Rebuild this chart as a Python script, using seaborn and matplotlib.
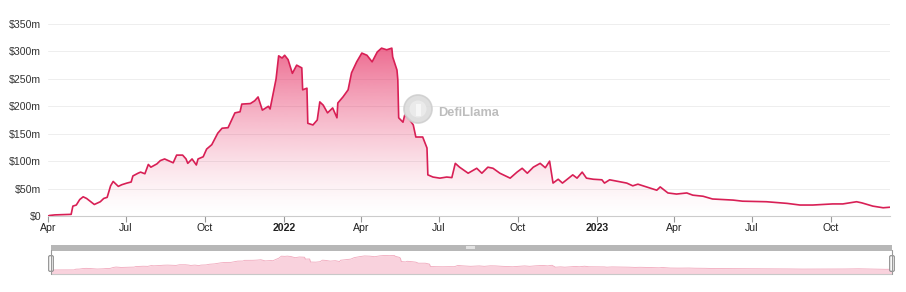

# DefiLlama style TVL chart

import pandas as pd
import numpy as np
import matplotlib
matplotlib.use("Agg")
import matplotlib.pyplot as plt
import matplotlib.dates as mdates
import seaborn as sns
from matplotlib.patches import Polygon, Circle, FancyBboxPatch, Rectangle
from matplotlib.ticker import FixedLocator

# Data (TVL in $m)

dates = [
    "2021-04-01", "2021-04-03", "2021-04-09", "2021-04-28", "2021-04-30", "2021-05-04",
    "2021-05-08", "2021-05-12", "2021-05-16", "2021-05-25", "2021-06-01", "2021-06-05",
    "2021-06-09", "2021-06-13", "2021-06-16", "2021-06-22", "2021-06-26", "2021-07-02",
    "2021-07-07", "2021-07-09", "2021-07-15", "2021-07-18", "2021-07-23", "2021-07-27",
    "2021-07-30", "2021-08-06", "2021-08-10", "2021-08-15", "2021-08-25", "2021-08-29",
    "2021-09-05", "2021-09-09", "2021-09-11", "2021-09-16", "2021-09-21", "2021-09-23",
    "2021-09-29", "2021-10-03", "2021-10-09", "2021-10-16", "2021-10-21", "2021-10-28",
    "2021-11-05", "2021-11-11", "2021-11-13", "2021-11-23", "2021-11-28", "2021-12-02",
    "2021-12-07", "2021-12-14", "2021-12-16", "2021-12-21", "2021-12-23", "2021-12-26",
    "2021-12-30", "2022-01-02", "2022-01-06", "2022-01-11", "2022-01-16", "2022-01-22",
    "2022-01-23", "2022-01-28", "2022-01-29", "2022-02-04", "2022-02-09", "2022-02-12",
    "2022-02-16", "2022-02-21", "2022-02-27", "2022-03-04", "2022-03-05", "2022-03-11",
    "2022-03-17", "2022-03-21", "2022-03-27", "2022-04-02", "2022-04-08", "2022-04-14",
    "2022-04-20", "2022-04-25", "2022-05-01", "2022-05-07", "2022-05-08", "2022-05-13",
    "2022-05-14", "2022-05-15", "2022-05-20", "2022-05-22", "2022-05-28", "2022-06-01",
    "2022-06-04", "2022-06-12", "2022-06-17", "2022-06-18", "2022-06-24", "2022-07-02",
    "2022-07-10", "2022-07-16", "2022-07-20", "2022-07-25", "2022-08-04", "2022-08-14",
    "2022-08-20", "2022-08-27", "2022-09-02", "2022-09-10", "2022-09-22", "2022-09-30",
    "2022-10-06", "2022-10-12", "2022-10-19", "2022-10-27", "2022-11-02", "2022-11-07",
    "2022-11-11", "2022-11-17", "2022-11-22", "2022-12-04", "2022-12-09", "2022-12-15",
    "2022-12-20", "2022-12-28", "2023-01-07", "2023-01-10", "2023-01-16", "2023-02-05",
    "2023-02-12", "2023-02-18", "2023-02-28", "2023-03-12", "2023-03-16", "2023-03-25",
    "2023-04-04", "2023-04-16", "2023-04-23", "2023-05-05", "2023-05-16", "2023-06-09",
    "2023-06-20", "2023-07-18", "2023-08-11", "2023-08-26", "2023-09-10", "2023-10-03",
    "2023-10-15", "2023-10-31", "2023-11-06", "2023-11-19", "2023-12-01", "2023-12-09",
]

tvl = [
    0, 1, 2, 3, 18, 20,
    30, 35, 32, 21, 26, 32,
    34, 55, 63, 54, 57, 60,
    62, 73, 78, 80, 77, 94,
    89, 95, 101, 104, 97, 111,
    111, 104, 96, 104, 93, 104,
    108, 122, 130, 151, 160, 161,
    188, 190, 204, 205, 210, 217,
    193, 200, 195, 235, 250, 292,
    288, 293, 285, 260, 275, 270,
    230, 233, 169, 166, 175, 208,
    202, 188, 197, 179, 206, 217,
    230, 261, 281, 297, 293, 281,
    299, 306, 303, 306, 290, 266,
    248, 179, 171, 184, 175, 166,
    144, 144, 124, 75, 71, 69,
    71, 70, 96, 89, 78, 87,
    78, 89, 87, 78, 69, 80,
    87, 78, 89, 96, 88, 100,
    60, 67, 60, 75, 69, 80,
    69, 67, 66, 60, 66, 60,
    55, 58, 53, 47, 53, 42,
    40, 42, 38, 36, 31, 29,
    27, 26, 23, 20, 20, 22,
    22, 26, 24, 18, 15, 16,
]

tick_dates = ["2021-04-01", "2021-07-01", "2021-10-01", "2022-01-01", "2022-04-01", "2022-07-01",
              "2022-10-01", "2023-01-01", "2023-04-01", "2023-07-01", "2023-10-01"]
tick_labels = ["Apr", "Jul", "Oct", "2022", "Apr", "Jul", "Oct", "2023", "Apr", "Jul", "Oct"]

y_ticks = [0, 50, 100, 150, 200, 250, 300, 350]
y_labels = ["$0", "$50m", "$100m", "$150m", "$200m", "$250m", "$300m", "$350m"]

df = pd.DataFrame({"date": pd.to_datetime(dates), "tvl": tvl})

line_color = "#d81f55"
fill_color = "#e62e62"

sns.set_style("white")
plt.rcParams["font.family"] = ["Liberation Sans", "DejaVu Sans"]

fig = plt.figure(figsize=(9.06, 2.92), dpi=100)

# Main chart

ax = fig.add_axes([48 / 906, 76 / 292, 842 / 906, 192 / 292])

sns.lineplot(data=df, x="date", y="tvl", color=line_color, linewidth=1.2, ax=ax, zorder=3)

xs = mdates.date2num(df["date"])
ys = df["tvl"].to_numpy()

# gradient fill under the line
ymax = ys.max()
n = 256
grad = np.zeros((n, 1, 4))
rgb = matplotlib.colors.to_rgb(fill_color)
grad[:, 0, 0] = rgb[0]
grad[:, 0, 1] = rgb[1]
grad[:, 0, 2] = rgb[2]
grad[:, 0, 3] = 0.7 * np.linspace(0, 1, n) ** 1.35

img = ax.imshow(grad, extent=[xs.min(), xs.max(), 0, ymax], origin="lower",
                aspect="auto", zorder=2, interpolation="bilinear")
clip = Polygon(np.column_stack([np.r_[xs[0], xs, xs[-1]], np.r_[0, ys, 0]]),
               closed=True, facecolor="none", edgecolor="none", transform=ax.transData)
ax.add_patch(clip)
img.set_clip_path(clip)

ax.set_xlim(xs.min(), xs.max())
ax.set_ylim(0, 350)

ax.set_yticks(y_ticks)
ax.set_yticklabels(y_labels)
ax.xaxis.set_major_locator(FixedLocator(mdates.date2num(pd.to_datetime(tick_dates))))
ax.set_xticklabels(tick_labels)
for lab in ax.get_xticklabels():
    if lab.get_text() in ("2022", "2023"):
        lab.set_fontweight("bold")

ax.tick_params(axis="y", length=0, labelsize=7.6, labelcolor="#333333", pad=5)
ax.tick_params(axis="x", length=4, width=0.8, color="#999999", labelsize=7.6,
               labelcolor="#222222", pad=1, bottom=True)

ax.grid(axis="y", color="#eeeeee", linewidth=0.7)
ax.set_axisbelow(True)
for s in ["top", "right", "left"]:
    ax.spines[s].set_visible(False)
ax.spines["bottom"].set_color("#cccccc")
ax.spines["bottom"].set_linewidth(0.8)
ax.set_xlabel("")
ax.set_ylabel("")

# Mini chart (data zoom slider)

mini = fig.add_axes([51 / 906, 18 / 292, 841 / 906, 22 / 292])
mini.fill_between(xs, ys, -84, color="#f9d2dd", linewidth=0)
mini.plot(xs, ys, color="#f1a9bd", linewidth=0.6)
mini.set_xlim(xs.min(), xs.max())
mini.set_ylim(-84, 380)
mini.axis("off")

# Overlay in pixel coords for slider furniture and watermark

ov = fig.add_axes([0, 0, 1, 1], zorder=10)
ov.set_xlim(0, 906)
ov.set_ylim(292, 0)
ov.axis("off")
ov.patch.set_alpha(0)

ov.add_patch(Rectangle((51, 245), 841, 5.5, facecolor="#b7b7b7", edgecolor="none"))
ov.add_patch(Rectangle((466, 246.3), 9, 2.8, facecolor="#e2e2e2", edgecolor="none"))
ov.plot([51, 892], [274, 274], color="#c8c8c8", linewidth=0.8)
for hx in [51, 892]:
    ov.plot([hx, hx], [250, 274], color="#999999", linewidth=0.8)
    ov.add_patch(FancyBboxPatch((hx - 2, 256), 4, 15, boxstyle="round,pad=0.3,rounding_size=1.2",
                                facecolor="white", edgecolor="#888888", linewidth=0.8))

# watermark
ov.add_patch(Circle((418, 109), 14, facecolor="#dcdcdc", edgecolor="#cfcfcf", linewidth=1.2, alpha=0.9))
ov.add_patch(Circle((418, 109), 8.5, facecolor="#ececec", edgecolor="none", alpha=0.9))
ov.add_patch(Rectangle((415.5, 104), 5, 12, facecolor="#f8f8f8", edgecolor="none", alpha=0.9))
ov.text(438, 113, "DefiLlama", fontsize=9.2, fontweight="bold", color="#bdbdbd",
        va="center", ha="left")

plt.savefig("out.png", dpi=100)
